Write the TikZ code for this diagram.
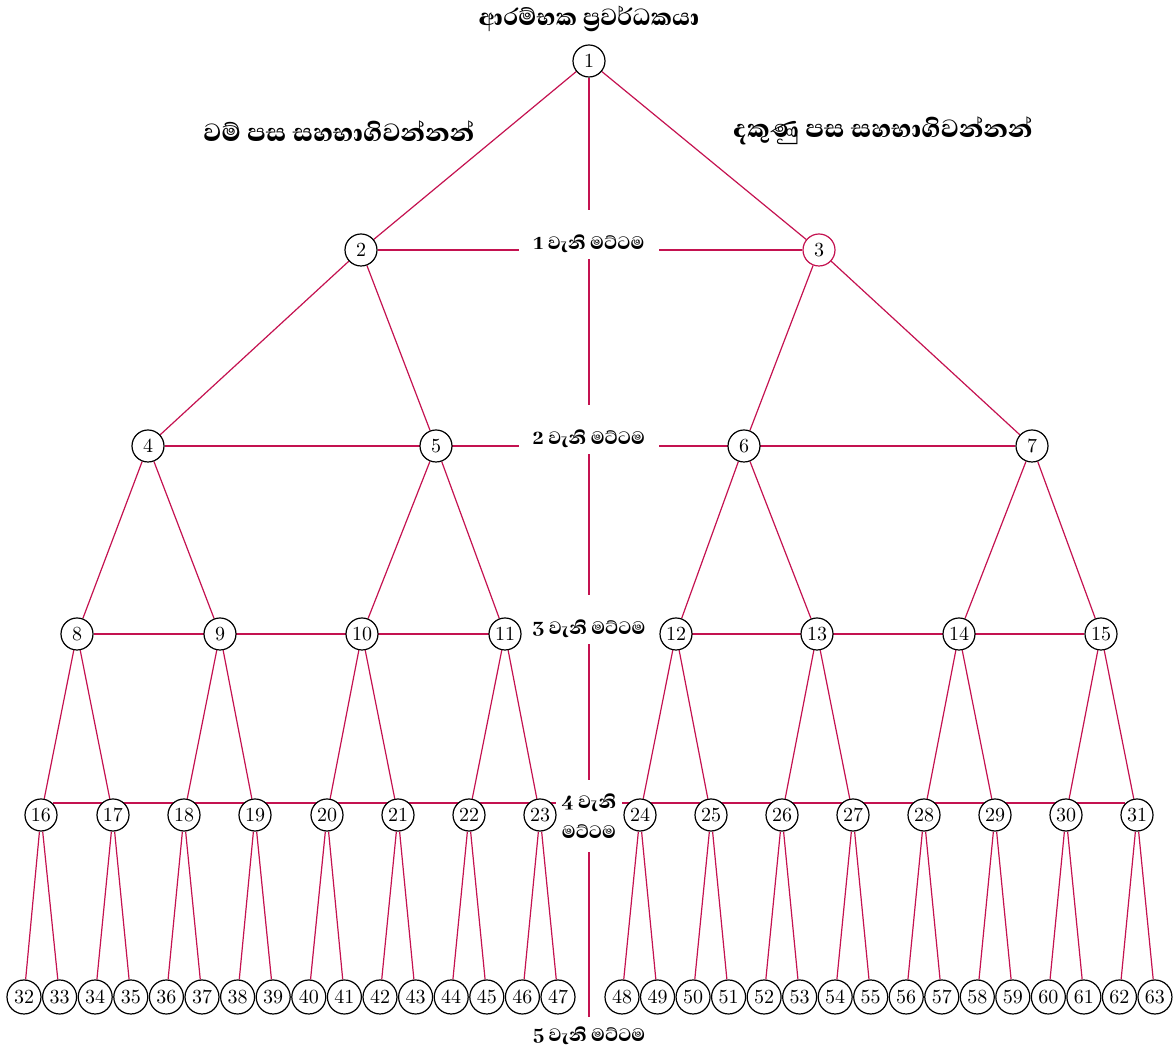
\documentclass[tikz,border=0pt]{standalone}
\usepackage{fontspec}
\newfontfamily\sinhala[Script=Sinhala,BoldFont={* ExtraBold}]{Abhaya Libre}
\usetikzlibrary{backgrounds}
\definecolor{linkred}{RGB}{196,18,80}
\tikzset{
  num/.style={circle,draw,fill=white,line width=0.6pt,minimum size=16pt,inner sep=0pt,font=\fontsize{10}{12}\selectfont},
  leaf/.style={num,minimum size=17pt},
  link/.style={draw=linkred,color=linkred,line width=0.6pt},
  levellabel/.style={fill=white,inner xsep=7pt,inner ysep=2pt,text height=18pt,text depth=2.5pt,anchor=base,font=\sinhala\bfseries\fontsize{11.5}{14}\selectfont},
  sidelabel/.style={font=\sinhala\bfseries\fontsize{16}{19}\selectfont}
}
\begin{document}
\begin{tikzpicture}[x=0.5pt,y=-0.5pt]
\useasboundingbox (0,0) rectangle (1175,1047);
% headings
\node[sidelabel,font=\sinhala\bfseries\fontsize{15}{18}\selectfont] (title) at (589,19) {ආරම්භක ප්^^^^200dරවර්ධකයා};
\node[sidelabel] (left) at (339,131) {වම් පස සහභාගිවන්නන්};
\node[sidelabel] (right) at (883,131) {දකුණු පස සහභාගිවන්නන්};
% level labels
\node[levellabel] (lv1) at (589,250) {1 වැනි මට්ටම};
\node[levellabel] (lv2) at (589,445) {2 වැනි මට්ටම};
\node[levellabel] (lv3) at (589,635) {3 වැනි මට්ටම};
\node[levellabel,anchor=center,align=center,text height=,text depth=,inner xsep=3pt,minimum height=36pt,font=\sinhala\bfseries\fontsize{11.5}{15}\selectfont] (lv4) at (589,816) {4 වැනි\\මට්ටම};
\node[levellabel,text height=10.5pt] (lv5) at (589,1042) {5 වැනි මට්ටම};
% nodes
\node[num] (n1) at (589,61) {1};
\node[num] (n2) at (361,250) {2};
\node[num,draw=linkred] (n3) at (819,250) {3};
\foreach \i/\x in {4/148,5/436,6/744,7/1032}
  \node[num] (n\i) at (\x,446) {\i};
\foreach \i/\x in {8/77,9/220,10/362,11/505,12/676,13/817,14/959,15/1101}
  \node[num] (n\i) at (\x,634) {\i};
\foreach \i/\x in {16/41,17/113,18/184,19/255,20/327,21/398,22/469,23/540,24/640,25/711,26/782,27/853,28/924,29/995,30/1066,31/1137}
  \node[num] (n\i) at (\x,815) {\i};
\foreach \i in {32,...,47}
  \node[leaf] (n\i) at ({24+35.6*(\i-32)},997) {\i};
\foreach \i in {48,...,63}
  \node[leaf] (n\i) at ({622+35.53*(\i-48)},997) {\i};
% connectors
\begin{scope}[on background layer]
\draw[link] (n1) -- (lv5);
\draw[link] (n2) -- (n3);
\draw[link] (n4) -- (n7);
\draw[link] (n8) -- (n15);
\draw[link] ([yshift=0.1pt]n16.45) -- ([yshift=0.1pt]n31.135);
\foreach \i in {2,...,63}{
  \pgfmathtruncatemacro\pa{\i/2}
  \draw[link] (n\pa) -- (n\i);
}
\end{scope}
\end{tikzpicture}
\end{document}
